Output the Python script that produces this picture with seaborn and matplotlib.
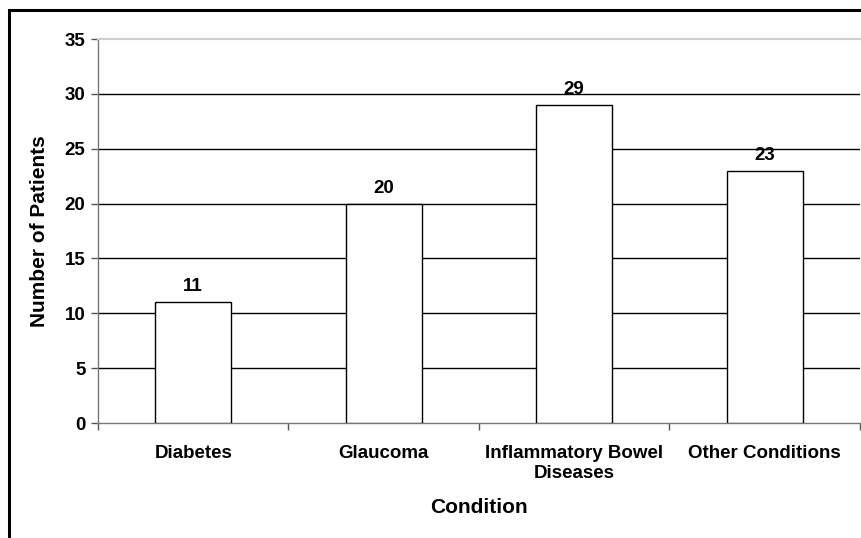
import seaborn as sns
import matplotlib.pyplot as plt
from matplotlib.patches import Rectangle

conditions = ["Diabetes", "Glaucoma", "Inflammatory Bowel\nDiseases", "Other Conditions"]
patients = [11, 20, 29, 23]

sns.set_style("white")
plt.rcParams["font.family"] = ["Liberation Sans", "DejaVu Sans"]
plt.rcParams["font.weight"] = "bold"
plt.rcParams["text.color"] = "black"
plt.rcParams["axes.labelcolor"] = "black"
plt.rcParams["xtick.color"] = "black"
plt.rcParams["ytick.color"] = "black"

W, H = 862, 538
fig = plt.figure(figsize=(W / 100, H / 100), dpi=100)
ax = fig.add_axes([98 / W, 1 - 423 / H, (860 - 98) / W, (423 - 39) / H])

sns.barplot(x=conditions, y=patients, color="white", edgecolor="black",
            linewidth=1.0, width=0.4, saturation=1, ax=ax, zorder=3)

ax.set_ylim(0, 35)
ax.set_xlim(-0.5, len(conditions) - 0.5)
ax.set_yticks(range(0, 36, 5))
for v in range(5, 35, 5):
    ax.axhline(v, color="black", linewidth=1.0, zorder=1)

for i, v in enumerate(patients):
    ax.annotate(str(v), (i, v), xytext=(0, 5), textcoords="offset points",
                ha="center", va="bottom", fontsize=13.5, fontweight="bold",
                color="black")

ax.set_xticks(range(len(conditions)))
ax.set_xticklabels(conditions, fontsize=13.5, fontweight="bold")
ax.set_xticks([i - 0.5 for i in range(len(conditions) + 1)], minor=True)
ax.tick_params(axis="x", which="major", length=0, pad=16, labelcolor="black")
ax.tick_params(axis="x", which="minor", length=5, width=1, color="#555555",
               direction="out", bottom=True)
ax.tick_params(axis="y", length=5, width=1, color="#555555", direction="out",
               left=True, labelsize=13.5, pad=4, labelcolor="black")
for lab in ax.get_yticklabels():
    lab.set_fontweight("bold")

for side in ["left", "bottom"]:
    ax.spines[side].set_color("#777777")
    ax.spines[side].set_linewidth(1.0)
ax.spines["right"].set_visible(False)
ax.spines["top"].set_color("#d0d0d0")
ax.spines["top"].set_linewidth(1.5)

ax.set_ylabel("Number of Patients", fontsize=15, fontweight="bold", labelpad=11)
ax.set_xlabel("Condition", fontsize=15, fontweight="bold", labelpad=12)

fig.patches.append(Rectangle((9.5 / W, -0.2), 1.5, 1.2 - 9.5 / H,
                             transform=fig.transFigure, fill=False,
                             edgecolor="black", linewidth=2.2))

plt.savefig("out.png", dpi=100)
